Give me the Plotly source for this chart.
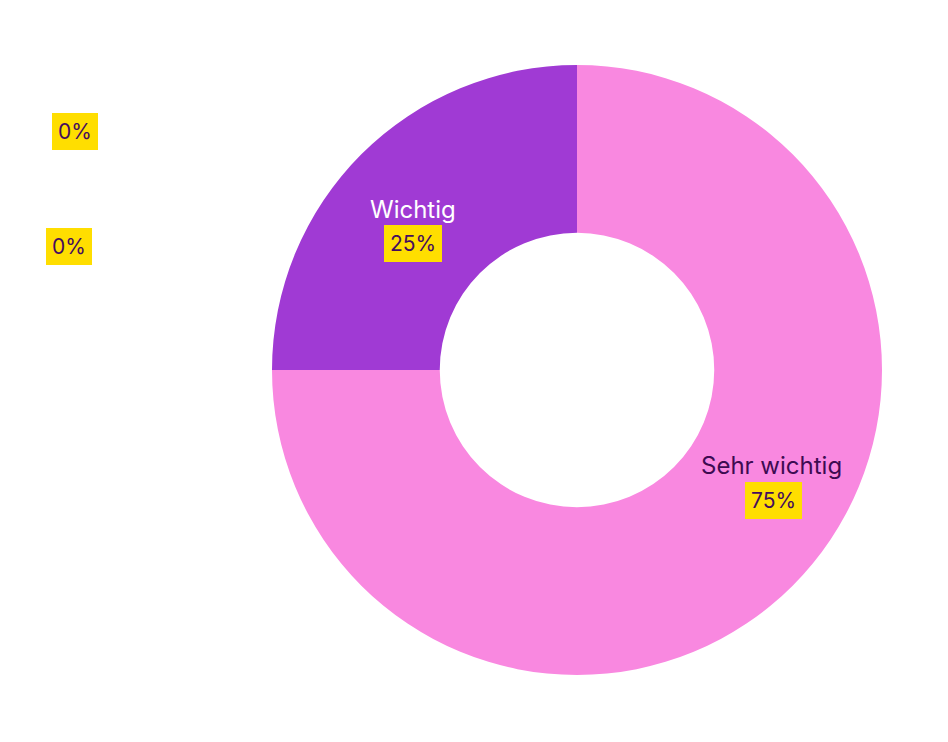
import plotly.graph_objects as go

# survey answers
labels = ['Sehr wichtig', 'Wichtig', 'Weniger wichtig', 'Gar nicht wichtig']
values = [75, 25, 0, 0]
colors = ['#F988E0', '#A03AD4', '#D9D9D9', '#BFBFBF']
label_colors = ['#3D0B52', '#FFFFFF', '#FFFFFF', '#FFFFFF']

# where the name and the percent box of each answer sit (pixels, top-left origin)
name_pos = [(771, 465), (413, 209), (135, 206), (145, 91)]
pct_pos = [(773, 500), (413, 244), (69, 247), (75, 131)]

W, H = 948, 742
FONT = 'Inter, DejaVu Sans, sans-serif'

fig = go.Figure(go.Pie(
    labels=labels,
    values=values,
    hole=0.45,
    sort=False,
    direction='clockwise',
    rotation=0,
    marker={'colors': colors, 'line': {'width': 0}},
    textinfo='none',
    hoverinfo='label+percent',
    domain={'x': [(577 - 305) / W, (577 + 305) / W],
            'y': [1 - 675 / H, 1 - 65 / H]},
))

total = sum(values)
annotations = []
for name, val, col, (nx, ny), (bx, by) in zip(labels, values, label_colors, name_pos, pct_pos):
    annotations.append(dict(
        x=nx / W, y=1 - ny / H, xref='paper', yref='paper', text=name, showarrow=False,
        font={'family': FONT, 'size': 24, 'color': col},
        xanchor='center', yanchor='middle'))
    annotations.append(dict(
        x=bx / W, y=1 - by / H, xref='paper', yref='paper',
        text=f'{round(100 * val / total)}%', showarrow=False,
        font={'family': FONT, 'size': 21, 'color': '#440C5E'},
        bgcolor='#FFDE00', borderpad=6, borderwidth=0,
        xanchor='center', yanchor='middle'))

fig.update_layout(
    width=W, height=H,
    margin={'l': 0, 'r': 0, 't': 0, 'b': 0},
    paper_bgcolor='white',
    plot_bgcolor='white',
    showlegend=False,
    annotations=annotations,
)

fig.write_html('out.html', config={'displayModeBar': False},
               post_script="document.body.style.margin='0';")
